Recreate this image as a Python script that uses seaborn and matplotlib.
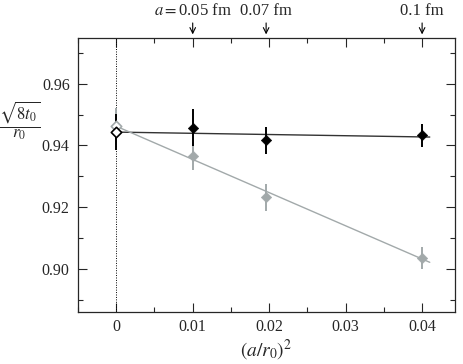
import matplotlib
matplotlib.use("Agg")
import matplotlib.pyplot as plt
import numpy as np
import pandas as pd
import seaborn as sns
from matplotlib.ticker import MultipleLocator

# data
x_lat = [0.01, 0.0196, 0.04]
y_black = [0.9457, 0.9416, 0.9432]
e_black = [0.0060, 0.0045, 0.0037]
y_gray = [0.9366, 0.9232, 0.9035]
e_gray = [0.0046, 0.0044, 0.0037]

y0_black, e0_black = 0.9443, 0.0058
y0_gray, e0_gray = 0.9462, 0.0060

fit_x = [0.0, 0.041]
fit_black = [0.9443, 0.9427]
fit_gray = [0.9462, 0.9021]

arrow_x = [0.01, 0.0196, 0.04]
arrow_txt = [r"$a = $0.05 fm", "0.07 fm", "0.1 fm"]

sns.set_style("ticks")
plt.rcParams["font.family"] = ["Liberation Serif", "DejaVu Serif"]
plt.rcParams["mathtext.fontset"] = "stix"

GRAY = "#a2a9aa"

fig = plt.figure(figsize=(4.63, 3.64), dpi=100)
ax = fig.add_axes([0.1685, 0.1429, 0.8142, 0.7527])

ax.axvline(0, color="black", lw=0.7, ls=(0, (1, 1.5)), zorder=1)

df_fit = pd.DataFrame({"x": fit_x * 2,
                       "y": fit_black + fit_gray,
                       "set": ["black"] * 2 + ["gray"] * 2})
sns.lineplot(data=df_fit, x="x", y="y", hue="set",
             palette={"black": "#333333", "gray": GRAY},
             lw=1.0, legend=False, ax=ax, zorder=2)

# error bars
ax.errorbar(x_lat, y_gray, yerr=e_gray, fmt="none", ecolor=GRAY,
            elinewidth=1.4, capsize=0, zorder=3)
ax.errorbar(x_lat, y_black, yerr=e_black, fmt="none", ecolor="black",
            elinewidth=1.4, capsize=0, zorder=4)
ax.errorbar([0], [y0_gray], yerr=[e0_gray], fmt="none", ecolor=GRAY,
            elinewidth=1.4, capsize=0, zorder=3)
ax.errorbar([0], [y0_black], yerr=[e0_black], fmt="none", ecolor="black",
            elinewidth=1.4, capsize=0, zorder=4)

sns.scatterplot(x=x_lat, y=y_gray, marker="D", s=28, color=GRAY,
                edgecolor=GRAY, ax=ax, zorder=5)
sns.scatterplot(x=x_lat, y=y_black, marker="D", s=28, color="black",
                edgecolor="black", ax=ax, zorder=6)
sns.scatterplot(x=[0], y=[y0_gray], marker="D", s=28, color="white",
                edgecolor=GRAY, linewidth=1.2, ax=ax, zorder=5)
sns.scatterplot(x=[0], y=[y0_black], marker="D", s=28, color="white",
                edgecolor="black", linewidth=1.2, ax=ax, zorder=6)

ax.set_xlim(-0.005, 0.0443)
ax.set_ylim(0.886, 0.9748)
ax.xaxis.set_minor_locator(MultipleLocator(0.005))
ax.yaxis.set_minor_locator(MultipleLocator(0.01))
ax.set_xticks([0, 0.01, 0.02, 0.03, 0.04])
ax.set_xticklabels(["0", "0.01", "0.02", "0.03", "0.04"])
ax.set_yticks([0.90, 0.92, 0.94, 0.96])
ax.set_yticklabels(["0.90", "0.92", "0.94", "0.96"])
ax.tick_params(which="both", direction="in", top=True, right=True,
               labelsize=11.5, width=0.8)
ax.tick_params(axis="x", pad=5)
ax.tick_params(axis="y", pad=6)
ax.tick_params(which="major", length=6.5)
ax.tick_params(which="minor", length=3.5)
for sp in ax.spines.values():
    sp.set_linewidth(0.9)

ax.set_xlabel(r"$(a/r_0)^2$", fontsize=14, labelpad=2)
ax.set_ylabel(r"$\dfrac{\sqrt{8t_0}}{r_0}$", fontsize=12, rotation=0,
              va="center", ha="center")
ax.yaxis.set_label_coords(-0.155, 0.70)

for xa, t in zip(arrow_x, arrow_txt):
    ax.annotate("", xy=(xa, 1.003), xytext=(xa, 1.065),
                xycoords=("data", "axes fraction"),
                textcoords=("data", "axes fraction"),
                arrowprops=dict(arrowstyle="->", lw=0.8, color="black"))
    ax.text(xa, 1.085, t, transform=ax.get_xaxis_transform(),
            ha="center", va="baseline", fontsize=12)

fig.savefig("out.png", dpi=100)
